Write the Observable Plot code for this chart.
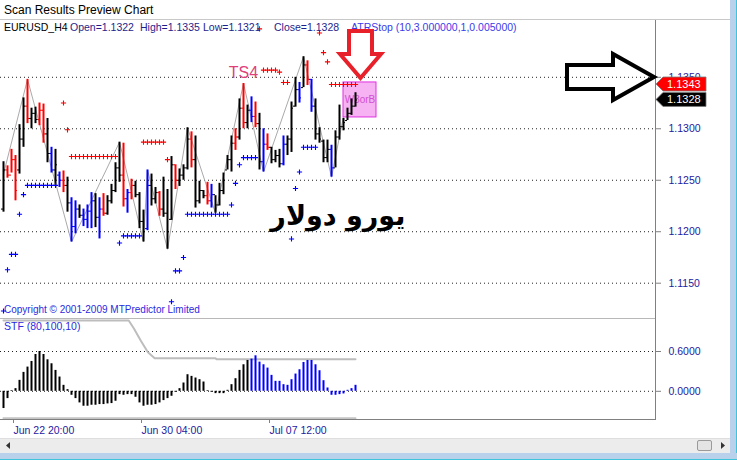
<!DOCTYPE html>
<html><head><meta charset="utf-8">
<script src="https://cdn.jsdelivr.net/npm/d3@7"></script>
<script src="https://cdn.jsdelivr.net/npm/@observablehq/plot@0.6"></script>
<style>
body{margin:0;background:#fff;}
#wrap{position:relative;width:737px;height:460px;overflow:hidden;background:#fff;font-family:"Liberation Sans",Arial,sans-serif;}
#wrap > *{position:absolute;}
.t{white-space:nowrap;line-height:1;}
</style></head><body><div id="wrap"></div>
<script>
// ---------- DATA ----------
const high = [1.1268,1.1264,1.1280,1.1274,1.1304,1.1330,1.1348,1.1320,1.1321,1.1325,
 1.1324,1.1310,1.1282,1.1280,1.1258,1.1259,1.1253,1.1233,1.1230,1.1226,
 1.1222,1.1226,1.1238,1.1237,1.1233,1.1237,1.1235,1.1246,1.1267,1.1287,
 1.1286,1.1241,1.1251,1.1249,1.1238,1.1221,1.1260,1.1256,1.1243,1.1239,
 1.1253,1.1241,1.1273,1.1265,1.1261,1.1265,1.1301,1.1297,1.1293,1.1249,
 1.1240,1.1248,1.1246,1.1235,1.1247,1.1257,1.1274,1.1293,1.1300,1.1329,
 1.1344,1.1323,1.1331,1.1326,1.1315,1.1300,1.1295,1.1282,1.1279,1.1280,
 1.1293,1.1293,1.1326,1.1350,1.1345,1.1370,1.1366,1.1348,1.1329,1.1301,
 1.1289,1.1289,1.1284,1.1298,1.1323,1.1310,1.1320,1.1329,1.1335];
const low = [1.1219,1.1252,1.1257,1.1230,1.1256,1.1282,1.1305,1.1300,1.1305,1.1303,
 1.1286,1.1267,1.1257,1.1245,1.1243,1.1238,1.1219,1.1190,1.1198,1.1213,
 1.1205,1.1203,1.1203,1.1204,1.1193,1.1215,1.1216,1.1227,1.1238,1.1248,
 1.1224,1.1218,1.1231,1.1233,1.1203,1.1190,1.1201,1.1225,1.1227,1.1215,
 1.1214,1.1183,1.1211,1.1241,1.1244,1.1250,1.1260,1.1262,1.1223,1.1227,
 1.1232,1.1226,1.1223,1.1218,1.1225,1.1236,1.1260,1.1258,1.1279,1.1289,
 1.1300,1.1300,1.1306,1.1301,1.1260,1.1258,1.1279,1.1266,1.1267,1.1262,
 1.1264,1.1274,1.1277,1.1321,1.1325,1.1340,1.1342,1.1316,1.1289,1.1286,
 1.1267,1.1267,1.1253,1.1262,1.1289,1.1298,1.1308,1.1313,1.1321];
const open = [1.1222,1.1260,1.1255,1.1270,1.1260,1.1290,1.1322,1.1310,1.1315,1.1309,
 1.1318,1.1295,1.1276,1.1260,1.1255,1.1250,1.1245,1.1228,1.1205,1.1222,
 1.1216,1.1212,1.1220,1.1230,1.1214,1.1222,1.1218,1.1230,1.1240,1.1262,
 1.1255,1.1232,1.1238,1.1245,1.1236,1.1210,1.1203,1.1245,1.1232,1.1238,
 1.1222,1.1218,1.1212,1.1265,1.1250,1.1255,1.1262,1.1290,1.1270,1.1230,
 1.1240,1.1235,1.1230,1.1236,1.1226,1.1240,1.1260,1.1270,1.1286,1.1292,
 1.1320,1.1306,1.1318,1.1312,1.1305,1.1268,1.1285,1.1282,1.1270,1.1274,
 1.1266,1.1285,1.1290,1.1322,1.1338,1.1340,1.1362,1.1348,1.1322,1.1295,
 1.1288,1.1272,1.1280,1.1262,1.1292,1.1302,1.1308,1.1315,1.1322];
const close = [1.1260,1.1255,1.1270,1.1240,1.1290,1.1322,1.1310,1.1315,1.1309,1.1318,
 1.1295,1.1276,1.1260,1.1265,1.1250,1.1245,1.1228,1.1205,1.1222,1.1216,
 1.1212,1.1220,1.1230,1.1214,1.1222,1.1218,1.1230,1.1240,1.1262,1.1255,
 1.1232,1.1238,1.1245,1.1236,1.1210,1.1200,1.1245,1.1232,1.1238,1.1222,
 1.1218,1.1200,1.1265,1.1250,1.1255,1.1262,1.1290,1.1270,1.1230,1.1240,
 1.1235,1.1230,1.1236,1.1226,1.1240,1.1250,1.1270,1.1286,1.1292,1.1320,
 1.1306,1.1318,1.1312,1.1305,1.1268,1.1285,1.1282,1.1270,1.1274,1.1266,
 1.1285,1.1290,1.1320,1.1338,1.1330,1.1362,1.1348,1.1322,1.1295,1.1290,
 1.1272,1.1280,1.1262,1.1292,1.1302,1.1306,1.1315,1.1322,1.1328];
const barColor = ["k","r","r","r","k","k","r","k","k","r",
 "r","k","b","k","b","r","k","b","b","k",
 "b","b","b","k","b","r","k","k","k","k",
 "r","b","r","k","k","k","b","k","k","r",
 "k","k","k","r","k","k","k","r","k","k",
 "k","r","b","k","k","k","k","k","r","k",
 "r","k","b","r","k","b","r","k","k","k",
 "b","k","k","k","b","k","r","b","k","k",
 "k","k","b","k","k","k","k","k","k"];

// ATR stop dots
const stopIndex = [0,1,2,3,4,5,6,7,8,9,10,11,12,13,15,16,17,18,19,20,21,22,23,24,25,26,27,28,
 29,30,31,32,33,34,35,36,37,38,39,40,41,42,43,44,45,46,47,48,49,50,51,52,53,54,55,56,57,58,59,
 60,61,62,63,64,65,66,67,68,69,70,71,72,73,74,75,76,77,78,79,80,81,82,83,84,85,86,87,88];
const stopValue = [1.1123,1.1163,1.1178,1.1178,1.1217,1.1236,1.1245,1.1245,1.1245,1.1245,1.1245,1.1245,1.1245,1.1245,
 1.1325,1.1299,1.1273,1.1273,1.1273,1.1273,1.1273,1.1273,1.1273,1.1273,1.1273,1.1273,1.1273,1.1273,
 1.1189,1.1196,1.1196,1.1196,1.1196,1.1196,1.1287,1.1287,1.1287,1.1287,1.1287,1.1287,1.1270,
 1.1132,1.1162,1.1162,1.1175,1.1217,1.1217,1.1217,1.1217,1.1217,1.1217,1.1217,1.1217,1.1217,1.1217,1.1217,
 1.1226,1.1247,1.1265,1.1272,1.1272,1.1272,1.1272,
 1.1397,1.1357,1.1357,1.1357,1.1357,1.1355,1.1345,1.1345,
 1.1193,1.1242,1.1258,1.1282,1.1282,1.1282,1.1282,
 1.1393,1.1374,1.1365,1.1343,1.1343,1.1343,1.1343,1.1343,1.1343,1.1343];
const stopSide = ["b","b","b","b","b","b","b","b","b","b","b","b","b","b",
 "r","r","r","r","r","r","r","r","r","r","r","r","r","r",
 "b","b","b","b","b","b","r","r","r","r","r","r","r",
 "b","b","b","b","b","b","b","b","b","b","b","b","b","b","b",
 "b","b","b","b","b","b","b",
 "r","r","r","r","r","r","r","r",
 "b","b","b","b","b","b","b",
 "r","r","r","r","r","r","r","r","r","r"];

// swing zigzag
const zigIndex = [0,6,17,29,35,36,41,46,53,60,65,75,82,85];
const zigPrice = [1.1256,1.1348,1.1190,1.1287,1.1190,1.1260,1.1183,1.1301,1.1218,1.1344,1.1258,1.1370,1.1253,1.1312];

// STF histogram
const stfValue = [-0.26,-0.11,0.01,0.04,0.165,0.285,0.365,0.45,0.555,0.60,
 0.555,0.475,0.415,0.315,0.215,0.09,0.025,-0.06,-0.11,-0.175,
 -0.225,-0.225,-0.21,-0.21,-0.20,-0.20,-0.19,-0.185,-0.15,-0.05,
 -0.06,-0.05,-0.05,-0.09,-0.175,-0.225,-0.21,-0.21,-0.20,-0.175,
 -0.14,-0.11,-0.075,-0.015,0.04,0.125,0.25,0.225,0.20,0.175,
 0.14,0.01,-0.015,-0.035,-0.035,-0.035,0.015,0.10,0.19,0.315,
 0.40,0.465,0.485,0.535,0.44,0.40,0.35,0.24,0.15,0.15,
 0.10,0.09,0.175,0.26,0.325,0.435,0.465,0.465,0.40,0.31,
 0.16,0.05,-0.06,-0.06,-0.05,-0.04,0.015,0.04,0.09];
const stfColor = ["k","k","k","k","k","k","k","k","k","k","k","k","k","k","k","k","k","k","k","k",
 "k","k","k","k","k","k","k","k","k","k","k","k","k","k","k","k","k","k","k","k",
 "k","k","k","k","k","k","k","k","k","k","k","k","k","k","k","k","k","k","k","k",
 "k","k","b","b","b","b","b","b","b","b","b","b","b","b","b","b","b","b","b","b",
 "b","b","b","b","b","b","b","b","b"];
const upperIndex = [0,31.3,32.6,34.3,36.1,37.8,53,53.2,88];
const upperValue = [1.067,1.067,0.947,0.766,0.59,0.50,0.50,0.485,0.485];
const lowerIndex = [0,88];
const lowerValue = [-0.405,-0.405];

const priceTicks = [1.115,1.12,1.125,1.13,1.135];
const stfTicks = [0,0.6];
const dateTickIndex = [2,34,66];
const dateLabels = ["Jun 22 20:00","Jun 30 04:00","Jul 07 12:00"];
const lastTags = [{value:1.1343, fill:"#ff0000"},{value:1.1328, fill:"#000000"}];
const boxIndex = [85,93.25], boxPrice = [1.1311,1.1345];

// ---------- BUILD ----------
const colorOf = {k:"#000000", r:"#ff0000", b:"#0000ff"};
const bars = high.map((h,i)=>({i, h, l:low[i], o:open[i], c:close[i], col:colorOf[barColor[i]]}));
const stops = stopIndex.map((idx,j)=>({i:idx, v:stopValue[j], col:colorOf[stopSide[j]]}));
const zig = zigIndex.map((idx,j)=>({i:idx, v:zigPrice[j]}));
const stf = stfValue.map((v,i)=>({i, v, col:colorOf[stfColor[i]]}));
const upper = upperIndex.map((idx,j)=>({i:idx, v:upperValue[j]}));
const lower = lowerIndex.map((idx,j)=>({i:idx, v:lowerValue[j]}));

const xs = {domain:[0,88], range:[3,355]};
const font = "Liberation Sans, Arial, sans-serif";
const axisBlue = "#1c1ca0";

const wrap = document.getElementById("wrap");
function div(css, html){const d=document.createElement("div"); d.style.cssText=css; if(html!==undefined) d.innerHTML=html; wrap.appendChild(d); return d;}

// title bar
div("left:0;top:0;width:737px;height:20px;background:#ffffff;border-bottom:1px solid #c8c8c8;box-sizing:border-box;");

const pricePlot = Plot.plot({
  width:737, height:318, marginLeft:0, marginRight:82, marginTop:20, marginBottom:0,
  x:{...xs, axis:null},
  y:{domain:[1.115,1.135], range:[282.7,76.8], axis:null},
  color:{type:"identity"},
  style:{fontFamily:font, fontSize:"10.5px", background:"transparent", overflow:"visible"},
  marks:[
    Plot.gridY(priceTicks,{stroke:"#222", strokeOpacity:1, strokeDasharray:"1,3"}),
    Plot.axisY(priceTicks,{anchor:"right", tickSize:5, tickPadding:8, tickFormat:d3.format(".4f"), stroke:"#808080", fill:axisBlue, label:null}),
    Plot.line(zig,{x:"i", y:"v", stroke:"#aaaaaa", strokeWidth:1}),
    Plot.rect([0],{x1:()=>boxIndex[0], x2:()=>boxIndex[1], y1:()=>boxPrice[0], y2:()=>boxPrice[1], fill:"#f6b2f2", stroke:"#e030e0", strokeWidth:1}),
    Plot.text([0],{x:()=>(boxIndex[0]+boxIndex[1])/2, y:()=>(boxPrice[0]+boxPrice[1])/2, text:()=>"W3orB", fill:"#d050d0", fontSize:10}),
    Plot.ruleX(bars,{x:"i", y1:"l", y2:"h", stroke:"col", strokeWidth:2}),
    Plot.ruleY(bars,{x1:d=>d.i-0.5, x2:"i", y:"o", stroke:"col", strokeWidth:1}),
    Plot.ruleY(bars,{x1:"i", x2:d=>d.i+0.5, y:"c", stroke:"col", strokeWidth:1}),
    Plot.dot(stops,{x:"i", y:"v", symbol:"plus", r:1.8, stroke:"col", strokeWidth:1.1}),
    Plot.text([0],{x:()=>60, y:()=>1.1354, text:()=>"TS4", fill:"#e0407a", fontSize:16}),
    Plot.text([0],{x:()=>83.6, y:()=>1.1215, text:()=>"يورو دولار", fill:"#000", fontSize:27, fontWeight:"bold", fontFamily:"DejaVu Sans"})
  ]
});
pricePlot.style.left="0px"; pricePlot.style.top="0px";
wrap.appendChild(pricePlot);

const stfPlot = Plot.plot({
  width:737, height:120, marginLeft:0, marginRight:82, marginTop:0, marginBottom:19,
  x:{...xs, axis:null},
  y:{domain:[0,0.6], range:[72.8,33], axis:null},
  color:{type:"identity"},
  style:{fontFamily:font, fontSize:"10.5px", background:"transparent", overflow:"visible"},
  marks:[
    Plot.gridY(stfTicks,{stroke:"#222", strokeOpacity:1, strokeDasharray:"1,3"}),
    Plot.axisY(stfTicks,{anchor:"right", tickSize:5, tickPadding:8, tickFormat:d3.format(".4f"), stroke:"#808080", fill:axisBlue, label:null}),
    Plot.axisX(dateTickIndex,{anchor:"bottom", tickSize:4, tickPadding:3, textAnchor:"start", dx:2, tickFormat:d=>dateLabels[dateTickIndex.indexOf(d)], stroke:"#808080", fill:axisBlue, label:null}),
    Plot.line(upper,{x:"i", y:"v", stroke:"#bdbdbd", strokeWidth:2}),
    Plot.line(lower,{x:"i", y:"v", stroke:"#c4c4c4", strokeWidth:2}),
    Plot.ruleX(stf,{x:"i", y1:0, y2:"v", stroke:"col", strokeWidth:2})
  ]
});
stfPlot.style.left="0px"; stfPlot.style.top="318px";
wrap.appendChild(stfPlot);

// panel borders and axis line
div("left:0;top:318px;width:655px;height:1px;background:#b8b8b8;");
div("left:0;top:419px;width:656px;height:1px;background:#808080;");
div("left:655px;top:20px;width:1px;height:400px;background:#808080;");

// texts
div("left:4px;top:4px;font-size:12px;color:#000;", "Scan Results Preview Chart").className="t";
const hdr = [["EURUSD_H4",4,"#000"],["Open=1.1322",70,"#1e1e8c"],["High=1.1335",140,"#1e1e8c"],["Low=1.1321",203,"#1e1e8c"],["Close=1.1328",274,"#1e1e8c"],["ATRStop (10,3.000000,1,0.005000)",351,"#3a3ae8"]];
hdr.forEach(([t,x,c])=>{div(`left:${x}px;top:22px;font-size:10.5px;color:${c};`, t).className="t";});
div("left:4px;top:305px;font-size:10px;color:#2a2ae0;", "Copyright © 2001-2009 MTPredictor Limited").className="t";
div("left:4px;top:321px;font-size:10.5px;color:#2a2ae0;", "STF (80,100,10)").className="t";

// scrollbar + window frame
div("left:0;top:438px;width:730px;height:15px;background:#ececec;border-top:1px solid #dedede;box-sizing:border-box;");
div("left:697px;top:440px;width:15px;height:11px;background:#e4e4e4;border:1px solid #9a9a9a;border-radius:2px;box-sizing:border-box;");
div("left:730px;top:0;width:7px;height:460px;background:#b9d1ea;border-right:1px solid #40c4dc;box-sizing:border-box;");
div("left:0;top:453px;width:737px;height:7px;background:#b9d1ea;border-bottom:1px solid #40c4dc;box-sizing:border-box;");

// overlay annotations (arrows, last-value tags)
const yS = pricePlot.scale("y");
const ns = "http://www.w3.org/2000/svg";
const ov = document.createElementNS(ns,"svg");
ov.setAttribute("width",737); ov.setAttribute("height",460);
ov.style.cssText="position:absolute;left:0;top:0;pointer-events:none;";
let s = "";
s += `<path d="M6,445.5 L10,442 L10,449 Z" fill="#333"/>`;
s += `<path d="M721,442 L725,445.5 L721,449 Z" fill="#333"/>`;
s += `<path d="M349,31 L372,31 L372,54 L381,54 L360.5,78 L340,54 L349,54 Z" fill="none" stroke="#e8202a" stroke-width="4" stroke-linejoin="miter"/>`;
s += `<path d="M567,65 L613,65 L613,54 L654,77 L613,100 L613,89 L567,89 Z" fill="none" stroke="#000" stroke-width="4" stroke-linejoin="miter"/>`;
lastTags.forEach(t=>{
  const y = yS.apply(t.value);
  s += `<path d="M656,${y} L663,${y-7} L706,${y-7} L706,${y+7} L663,${y+7} Z" fill="${t.fill}" stroke="#7a7a7a" stroke-width="0.8"/>`;
  s += `<text x="667" y="${y+4}" fill="#fff" font-size="11" font-family="${font}">${d3.format(".4f")(t.value)}</text>`;
});
ov.innerHTML = s;
wrap.appendChild(ov);
</script></body></html>
